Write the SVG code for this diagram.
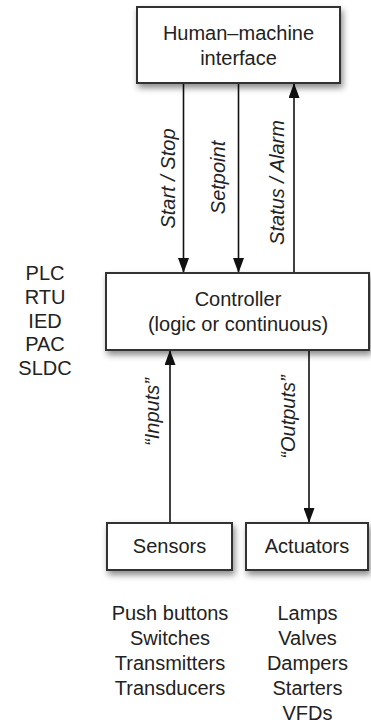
<svg xmlns="http://www.w3.org/2000/svg" width="371" height="724" viewBox="0 0 371 724">
<defs>
<filter id="sh" x="-20%" y="-20%" width="150%" height="160%">
<feDropShadow dx="2" dy="4" stdDeviation="3" flood-color="#000" flood-opacity="0.45"/>
</filter>
<marker id="ah" viewBox="0 0 15 11" refX="15" refY="5.5" markerWidth="15" markerHeight="11" markerUnits="userSpaceOnUse" orient="auto">
<path d="M0,0 L15,5.5 L0,11 Z" fill="#111"/>
</marker>
</defs>
<style>
.box{fill:#fff;stroke:#333;stroke-width:2;filter:url(#sh)}
.t{font-family:"Liberation Sans",Arial,sans-serif;font-size:20px;fill:#222;text-anchor:middle}
.i{font-style:italic}
.c{stroke:#111;stroke-width:1.6;fill:none;marker-end:url(#ah)}
</style>
<rect width="371" height="724" fill="#fff"/>
<g id="connectors">
<line class="c" x1="183.5" y1="83" x2="183.5" y2="273"/>
<line class="c" x1="238.5" y1="83" x2="238.5" y2="273"/>
<line class="c" x1="294" y1="273" x2="294" y2="83"/>
<line class="c" x1="170" y1="523" x2="170" y2="350"/>
<line class="c" x1="309" y1="350" x2="309" y2="523"/>
<text class="t i" transform="translate(175,178.5) rotate(-90)">Start / Stop</text>
<text class="t i" transform="translate(225,177.5) rotate(-90)">Setpoint</text>
<text class="t i" transform="translate(284,182.5) rotate(-90)">Status / Alarm</text>
<text class="t i" transform="translate(159,412) rotate(-90)">“Inputs”</text>
<text class="t i" transform="translate(295,417) rotate(-90)">“Outputs”</text>
</g>
<g id="hmi">
<rect class="box" x="137" y="7" width="203" height="76"/>
<text class="t" x="238.5" y="40">Human–machine</text>
<text class="t" x="238.5" y="65">interface</text>
</g>
<g id="controller">
<rect class="box" x="106" y="273" width="263" height="77"/>
<text class="t" x="238" y="306">Controller</text>
<text class="t" x="238" y="331">(logic or continuous)</text>
</g>
<g id="sensors">
<rect class="box" x="107" y="523" width="125" height="47"/>
<text class="t" x="169.5" y="553">Sensors</text>
</g>
<g id="actuators">
<rect class="box" x="246" y="523" width="122" height="47"/>
<text class="t" x="307" y="553">Actuators</text>
</g>
<g id="controller-types">
<text class="t" x="45" y="280">PLC</text>
<text class="t" x="45" y="304">RTU</text>
<text class="t" x="45" y="328">IED</text>
<text class="t" x="45" y="351">PAC</text>
<text class="t" x="45" y="375">SLDC</text>
</g>
<g id="sensor-types">
<text class="t" x="170" y="620">Push buttons</text>
<text class="t" x="170" y="645">Switches</text>
<text class="t" x="170" y="670">Transmitters</text>
<text class="t" x="170" y="695">Transducers</text>
</g>
<g id="actuator-types">
<text class="t" x="307.5" y="620">Lamps</text>
<text class="t" x="307.5" y="645">Valves</text>
<text class="t" x="307.5" y="670">Dampers</text>
<text class="t" x="307.5" y="695">Starters</text>
<text class="t" x="307.5" y="720">VFDs</text>
</g>
</svg>
